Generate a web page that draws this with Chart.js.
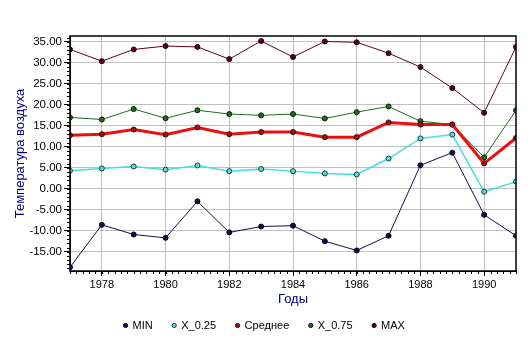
<!DOCTYPE html>
<html><head><meta charset="utf-8">
<script src="https://cdn.jsdelivr.net/npm/chart.js@4"></script>
<style>html,body{margin:0;padding:0;background:#fff}#wrap{width:532px;height:347px}</style>
</head><body><div id="wrap"><canvas id="c" width="532" height="347"></canvas></div>
<script>
const years = [1977,1978,1979,1980,1981,1982,1983,1984,1985,1986,1987,1988,1989,1990,1991];
const minVals = [-18.7,-8.6,-10.9,-11.7,-3.0,-10.4,-9.0,-8.8,-12.5,-14.7,-11.2,5.6,8.6,-6.2,-11.2];
const q25Vals = [4.3,4.85,5.3,4.55,5.55,4.2,4.7,4.2,3.65,3.4,7.2,12.0,12.9,-0.7,1.7];
const meanVals = [12.75,13.0,14.1,12.9,14.6,13.0,13.5,13.5,12.3,12.3,15.8,15.3,15.3,6.05,12.1];
const q75Vals = [17.0,16.5,19.0,16.8,18.7,17.8,17.5,17.8,16.75,18.25,19.6,16.1,15.3,7.5,18.7];
const maxVals = [33.2,30.4,33.2,34.0,33.8,30.9,35.2,31.4,35.1,34.9,32.3,29.0,24.0,18.1,33.8];
const xTicks = [1978,1980,1982,1984,1986,1988,1990];
const yTicks = [-15,-10,-5,0,5,10,15,20,25,30,35];
const seriesNames = ['MIN','X_0.25','Среднее','X_0.75','MAX'];

const pts = arr => arr.map((v,i)=>({x:years[i],y:v}));
function ds(label, data, color, width, ptFill, ptBorder){
  return {label, data: pts(data), borderColor: color, backgroundColor: ptFill,
    borderWidth: width, pointRadius: 2.5, pointBorderWidth: 1, pointBackgroundColor: ptFill,
    pointBorderColor: ptBorder, pointHoverRadius: 2.5, tension: 0, fill:false};
}

const frame = {
  id:'frame',
  afterDraw(chart){
    const {ctx, chartArea:a, scales:{x,y}} = chart;
    ctx.save();
    ctx.strokeStyle = '#000'; ctx.lineWidth = 1;
    ctx.beginPath();
    for(let v=Math.ceil(y.min); v<=y.max; v++){
      const py = Math.round(y.getPixelForValue(v))+0.5;
      ctx.moveTo(a.left-3, py); ctx.lineTo(a.left, py);
    }
    for(let k=Math.ceil(x.min*5); k<=x.max*5; k++){
      const px = Math.round(x.getPixelForValue(k/5))+0.5;
      ctx.moveTo(px, a.bottom); ctx.lineTo(px, a.bottom+3);
    }
    ctx.stroke();
    ctx.lineWidth = 1.5;
    ctx.strokeRect(a.left, a.top, a.right-a.left, a.bottom-a.top);
    ctx.restore();
  }
};

const FONT = 'Arial, "Liberation Sans", sans-serif';
new Chart(document.getElementById('c'), {
  type:'line',
  data:{datasets:[
    ds(seriesNames[0], minVals, '#10104a', 1, '#10104a', '#000020'),
    ds(seriesNames[1], q25Vals, '#40e0e0', 1.5, '#60d8d8', '#104040'),
    ds(seriesNames[2], meanVals, '#e81010', 3, '#a01010', '#400000'),
    ds(seriesNames[3], q75Vals, '#1e6e1e', 1, '#1e6e1e', '#002000'),
    ds(seriesNames[4], maxVals, '#600018', 1, '#600018', '#200000')
  ]},
  options:{
    responsive:false, animation:false, devicePixelRatio:1,
    layout:{padding:{top:36,right:16,left:13,bottom:6}},
    plugins:{
      tooltip:{enabled:false},
      legend:{position:'bottom', labels:{usePointStyle:true, pointStyle:'circle', boxWidth:3, boxHeight:3,
        padding:20, color:'#000', font:{family:FONT, size:11}}}
    },
    scales:{
      x:{type:'linear', min:1977, max:1991,
        afterBuildTicks: s => { s.ticks = xTicks.map(v=>({value:v})); },
        afterFit: s => { s.height = 29; },
        ticks:{color:'#000', font:{family:FONT, size:11}, padding:2, maxRotation:0,
          callback: v => String(v)},
        grid:{color:'#c0c0c0', lineWidth:1, tickColor:'#000', tickLength:5},
        border:{color:'#000'},
        title:{display:true, text:'Годы', color:'#000080', font:{family:FONT, size:13}, padding:{top:0,bottom:-7}}
      },
      y:{min:-19.6, max:36.4,
        afterBuildTicks: s => { s.ticks = yTicks.map(v=>({value:v})); },
        afterFit: s => { s.width = 57; },
        ticks:{color:'#000', font:{family:FONT, size:11.5}, padding:2,
          callback: v => Number(v).toFixed(2)},
        grid:{color:'#c0c0c0', lineWidth:1, tickColor:'#000', tickLength:6},
        border:{color:'#000'},
        title:{display:true, text:'Температура воздуха', color:'#000080', font:{family:FONT, size:13}, padding:{top:0,bottom:4}}
      }
    }
  },
  plugins:[frame]
});
</script></body></html>
